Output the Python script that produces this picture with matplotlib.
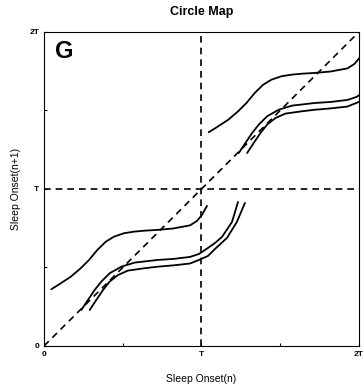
import matplotlib
matplotlib.use("Agg")
import matplotlib.pyplot as plt

# circle map branches over one period (x, y in units of T)
a1_x = [0.046, 0.106, 0.170, 0.233, 0.286, 0.338, 0.392, 0.444, 0.508, 0.571,
        0.635, 0.717, 0.819, 0.927, 0.971, 1.003, 1.035]
a1_y = [0.361, 0.399, 0.441, 0.495, 0.548, 0.611, 0.664, 0.696, 0.718, 0.728,
        0.734, 0.739, 0.748, 0.768, 0.796, 0.834, 0.892]

a2_x = [0.237, 0.279, 0.322, 0.364, 0.417, 0.491, 0.576, 0.724, 0.819, 0.927,
        0.984, 1.041, 1.086, 1.130, 1.194, 1.232]
a2_y = [0.229, 0.293, 0.357, 0.410, 0.463, 0.505, 0.531, 0.548, 0.554, 0.567,
        0.586, 0.624, 0.656, 0.694, 0.790, 0.917]

a3_x = [0.290, 0.332, 0.375, 0.417, 0.470, 0.533, 0.639, 0.724, 0.819, 0.927,
        0.984, 1.041, 1.086, 1.162, 1.225, 1.276]
a3_y = [0.229, 0.293, 0.357, 0.410, 0.452, 0.480, 0.495, 0.505, 0.513, 0.525,
        0.548, 0.573, 0.618, 0.688, 0.790, 0.911]

branches = [(a1_x, a1_y), (a2_x, a2_y), (a3_x, a3_y)]
periods = [0, 1]

tick_pos = [0, 1, 2]
tick_labels = ["0", "T", "2T"]

fig = plt.figure(figsize=(3.64, 3.90), dpi=100)
ax = fig.add_axes([0.121, 0.113, 0.865, 0.805])

for k in periods:
    for bx, by in branches:
        ax.plot([v + k for v in bx], [v + k for v in by], color="black",
                lw=1.3, solid_joinstyle="round", solid_capstyle="round")

dash = (0, (4, 3))
ax.plot([0, 2], [0, 2], color="black", lw=1.2, linestyle=dash)
ax.axvline(1, color="black", lw=1.2, linestyle=dash)
ax.axhline(1, color="black", lw=1.2, linestyle=dash)

ax.set_xlim(0, 2)
ax.set_ylim(0, 2)
ax.set_xticks(tick_pos)
ax.set_xticklabels(tick_labels)
ax.set_yticks(tick_pos)
ax.set_yticklabels(tick_labels)
ax.set_xticks([0.5, 1.5], minor=True)
ax.set_yticks([0.5, 1.5], minor=True)
ax.tick_params(which="both", direction="in", length=2, width=0.8,
               labelsize=6)
for lab in ax.get_xticklabels() + ax.get_yticklabels():
    lab.set_fontweight("bold")
    lab.set_family("Liberation Sans")

ax.text(0.035, 0.975, "G", transform=ax.transAxes, fontsize=17,
        fontweight="bold", family="Liberation Sans", va="top", ha="left")

ax.set_title("Circle Map", fontsize=9, fontweight="bold",
             family="Liberation Sans", pad=12)
ax.set_xlabel("Sleep Onset(n)", fontsize=7.5, family="Liberation Sans",
              labelpad=12)
ax.set_ylabel("Sleep Onset(n+1)", fontsize=7.5, family="Liberation Sans",
              labelpad=6)

fig.savefig("out.png", dpi=100)
